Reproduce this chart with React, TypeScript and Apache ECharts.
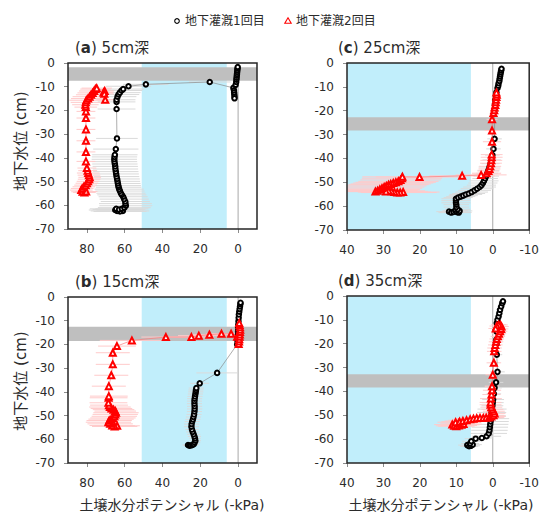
import React, { useEffect, useRef } from "react";
import * as echarts from "echarts";

// [soil water potential (-kPa), water table (cm), sd (kPa)]
// 5cm depth
const d5Run1 = [
  [61, -62.4, 14], [62.5, -62.6, 14], [64, -62.4, 14], [65, -62, 14], [64.5, -61.5, 14], [63, -61.8, 14],
  [61.5, -61.5, 14], [60.2, -61, 14], [59.4, -60.2, 14], [59.6, -59.3, 14], [59.7, -58.4, 13], [60.3, -57.4, 13],
  [60.8, -56.4, 13], [61.5, -55.6, 13], [62, -54.9, 13], [62.5, -54, 13], [62.9, -53.2, 13], [63.2, -52.4, 12],
  [63.4, -51.7, 12], [63.6, -50.8, 12], [63.8, -49.9, 12], [64, -48.9, 12], [64.3, -47.9, 12], [64.5, -46.8, 12],
  [64.7, -45.8, 12], [64.9, -44.7, 12], [65, -43.6, 12], [65.2, -42.6, 12], [65.4, -41.6, 12], [65.5, -40.6, 12],
  [65.4, -39.6, 12], [65.2, -38.7, 12], [64.7, -36.3, 12], [64.1, -31.8, 11], [64.3, -19.4, 10], [64.3, -16.4, 10],
  [64.3, -15.5, 10], [63.8, -14.2, 10], [63.3, -13.3, 11], [62.6, -12.5, 11], [61.7, -11.6, 11], [60.8, -11, 11],
  [58, -9.8, 12], [48.8, -9, 12], [15, -8, 11], [2.5, -10.5, 1], [2.2, -11.5, 1], [2.1, -12.4, 1], [2, -13.3, 1],
  [1.9, -14.2, 1], [1.9, -14.9, 1], [1.3, -9.2, 1], [1, -8, 1], [0.9, -7, 1], [0.8, -6.2, 1], [0.7, -5.4, 1],
  [0.6, -4.6, 1], [0.5, -3.8, 1], [0.4, -3, 1], [0.3, -2.3, 1], [0.2, -1.7, 1],
];
const d5Run2 = [
  [83, -53.6, 6], [82.3, -54.3, 6], [81.3, -54.6, 6], [80.4, -54.2, 6], [82.5, -52.9, 6], [81.6, -52.2, 6],
  [80.7, -51.5, 6], [80, -50.7, 6], [79.4, -49.9, 6], [78.8, -49, 6], [78.5, -48.2, 6], [78.9, -47.3, 6],
  [79.3, -46.4, 6], [79.6, -45.4, 5], [80, -44.3, 5], [80.5, -41.5, 5], [80.5, -37.5, 5], [80.5, -32.8, 5],
  [80.5, -28, 5], [80.5, -23.2, 5], [80.5, -20.4, 5], [80.6, -18.6, 6], [80.8, -17.6, 7], [80.6, -16.6, 8],
  [80.3, -15.7, 9], [79.4, -15, 9], [78.6, -14.2, 9], [77.8, -13.4, 8], [77, -12.6, 8], [76.2, -11.8, 8],
  [75.5, -11, 8], [74.8, -10.6, 8], [70.6, -11.8, 5], [71.2, -12.4, 5], [70.8, -13, 5], [70.3, -15.5, 5],
];

// 15cm depth
const d15Run1 = [
  [26.5, -62.4, 3], [25.8, -62.7, 3], [25, -62.6, 3], [24.2, -62.4, 3], [23.5, -62.1, 3], [23, -61.4, 3],
  [22.6, -60.6, 3], [22.8, -59.7, 3], [23.1, -58.8, 3.5], [23.5, -57.9, 3.5], [24, -56.9, 3.5], [24.4, -55.9, 3.5],
  [24.7, -54.7, 4], [24.6, -53.6, 4], [24.3, -52.5, 4], [23.9, -51.6, 4], [23.6, -50.6, 4], [23.3, -49.5, 4],
  [23.1, -48.3, 4], [23, -47.2, 4], [23, -46.1, 4], [23.1, -45, 4], [23.1, -43.9, 4], [23, -42.9, 4],
  [22.8, -41.9, 4], [22.6, -40.9, 4], [22.4, -40, 4], [22.3, -39.2, 4], [22.1, -38.4, 4], [20.3, -36.4, 5],
  [11.1, -32, 11], [0.5, -20, 1], [0.3, -18.6, 1], [0.2, -17.2, 1], [0.1, -15.8, 1], [0, -14.4, 1], [0, -13, 1],
  [-0.1, -11.6, 1], [-0.2, -10.2, 1], [-0.3, -8.8, 1], [-0.4, -7.4, 1], [-0.6, -6.2, 1], [-0.8, -5.1, 1],
  [-1, -4, 1], [-1.2, -3, 1], [-1.3, -2.4, 1],
];
const d15Run2 = [
  [64, -54.3, 12], [65.3, -54.6, 12], [66.6, -54.2, 12], [67.7, -53.5, 12], [68.6, -52.8, 12], [68.2, -52.1, 12],
  [67.2, -51.5, 12], [66.2, -51, 12], [65.5, -50.3, 12], [65, -49.5, 12], [64.6, -48.8, 12], [65, -48.1, 11],
  [65.9, -47.5, 11], [67, -47, 11], [67.8, -46.4, 11], [68.3, -45.6, 10], [68.6, -44.6, 10], [68.5, -42.5, 10],
  [68.4, -41.8, 10], [68.4, -37.6, 9], [67.1, -33, 9], [66.3, -28.4, 9], [66.3, -23.5, 9], [64.1, -20.7, 10],
  [56.2, -18.3, 17], [38.2, -16.9, 13], [24.7, -16.9, 12], [20.8, -16.3, 11], [15.2, -15.9, 10], [8.8, -15.5, 8],
  [3.7, -15.5, 6], [0.5, -16.8, 2], [-0.3, -19.8, 1], [-0.5, -18.8, 1], [-0.6, -17.8, 1], [-0.8, -16.8, 1],
  [-0.9, -15.8, 1], [-1, -14.8, 1], [-1.1, -13.8, 1], [-1, -12.8, 1], [-0.8, -11.8, 1], [-0.6, -11, 1],
];

// 25cm depth
const d25Run1 = [
  [12, -62.3, 3.5], [11.4, -62.7, 3.5], [10.8, -62.4, 3.5], [10.3, -61.9, 3.5], [9.8, -62.5, 3.5], [9.3, -62.7, 3.5],
  [9.1, -62, 3.5], [9.6, -61.3, 3.5], [10, -60.4, 3.5], [10, -59.4, 3.5], [10.1, -58.6, 4], [10.1, -57.7, 4],
  [10.1, -56.9, 4], [9.5, -56.4, 4], [8.8, -56, 4], [8.1, -55.6, 4], [7.4, -55.1, 4.5], [6.6, -54.7, 4.5],
  [5.8, -54.1, 4.5], [5, -53.4, 4.5], [4.3, -52.7, 4.5], [3.6, -52, 4.5], [3.1, -51.2, 4], [2.7, -50.3, 4],
  [2.4, -49.4, 4], [2.1, -48.4, 3.5], [1.8, -47.4, 3.5], [1.5, -46.2, 3], [1.2, -45, 3], [0.9, -43.6, 3],
  [0.6, -42.2, 2.5], [0.3, -40.6, 2.5], [0.1, -38.6, 2], [-0.2, -36, 2], [-0.5, -31.8, 2], [-0.5, -19.6, 1],
  [-0.6, -17.5, 1], [-0.7, -15.5, 1], [-0.9, -13.5, 1], [-1, -12.3, 1], [-1.3, -10.5, 1], [-1.5, -9.5, 1],
  [-1.6, -8.5, 1], [-1.8, -7.5, 1], [-1.9, -6.5, 1], [-2, -5.6, 1], [-2.1, -4.7, 1], [-2.2, -3.9, 1],
  [-2.3, -3.1, 1], [-2.4, -2.4, 1],
];
const d25Run2 = [
  [24.6, -54.1, 10], [25.4, -54.3, 10], [26.2, -54.3, 10], [27, -54.1, 10], [27.8, -53.8, 10], [28.6, -53.6, 10],
  [29.3, -53.9, 10], [32.2, -53.9, 11], [31.6, -53.5, 11], [31, -53, 11], [30.4, -52.5, 11], [29.8, -52, 11],
  [29.2, -51.5, 11], [28.6, -51, 11], [28, -50.7, 11], [27.3, -50.3, 11], [26.6, -50, 11], [25.9, -49.6, 11],
  [25.3, -49, 11], [24.9, -48.3, 11], [24.8, -47.7, 11], [20.1, -47.8, 12], [8.4, -47.3, 9], [3.2, -46.9, 7],
  [1.7, -46.2, 4], [1.2, -45.3, 3], [0.9, -44.4, 3], [0.7, -43.3, 3], [0.5, -42, 3], [0.4, -40.8, 3],
  [0.3, -39.5, 3], [0.3, -38.4, 3], [0.2, -33, 2.5], [0.2, -28.3, 2], [0.2, -23.6, 1.5], [-0.2, -21, 1],
  [-0.4, -19.8, 1], [-0.5, -18.7, 1], [-0.7, -17.6, 1], [-0.8, -16.5, 1], [-0.9, -15.4, 1], [-1, -14.3, 1],
  [-1.1, -13.3, 1], [-1, -12.4, 1],
];

// 35cm depth
const d35Run1 = [
  [7, -62.5, 2.5], [6.5, -63, 2.5], [6, -62.8, 2.5], [5.5, -62.3, 2.5], [6.2, -61.8, 2.5], [5.9, -60.9, 2.5],
  [4.7, -59.8, 3], [3, -59.5, 3], [1.7, -58.8, 4], [1.1, -57.6, 5], [0.9, -56.3, 5], [0.8, -55, 5],
  [0.7, -53.8, 5], [0.6, -52.6, 5], [0.5, -51.4, 5], [0.4, -50.2, 4], [0.3, -48.8, 4], [0.2, -47.4, 4],
  [0.1, -46, 3], [0, -44.7, 3], [-0.1, -43.4, 3], [-0.3, -41, 2], [-0.5, -38.5, 2], [-0.9, -36.2, 2],
  [-1.3, -31.8, 2], [-1.1, -24.6, 1.5], [-1, -20, 1], [-1, -18.3, 1], [-1.1, -15, 1], [-1.1, -11.3, 1],
  [-1.3, -10, 1], [-1.6, -8.6, 1], [-1.8, -7.2, 1], [-2, -5.8, 1], [-2.3, -4.4, 1], [-2.6, -3, 1], [-2.8, -2.2, 1],
];
const d35Run2 = [
  [11.1, -53.9, 5], [10.6, -54.4, 5], [10, -54.6, 5], [9.3, -54.3, 5], [8.6, -54, 5], [8, -53.7, 5],
  [9.4, -53.3, 5], [10.2, -52.9, 5], [9.1, -52.7, 5], [8.2, -52.4, 5], [7.2, -52.1, 5], [6.2, -51.7, 5],
  [5.3, -51.4, 5], [4.4, -51.2, 5], [3.5, -51.1, 5], [2.6, -51.1, 5], [1.8, -51, 5], [1, -50.9, 4],
  [0.4, -50.5, 4], [-0.2, -50, 3], [-0.5, -49.2, 3], [-0.3, -48.3, 3], [0.1, -47.5, 3], [0.4, -46.6, 3],
  [0.6, -45.6, 3], [0.6, -44.6, 3], [0.5, -43, 3], [0.35, -41.3, 2.5], [0.2, -39.5, 2.5], [0.2, -37.8, 2],
  [0, -33, 2], [-0.3, -28, 2], [-0.4, -23.2, 2], [-0.5, -21.8, 2], [-0.7, -20.5, 2], [-0.9, -19.2, 2],
  [-1.1, -18, 2], [-1.4, -16.9, 2], [-1.7, -15.8, 2], [-2, -14.8, 2], [-2.3, -13.8, 2], [-2.4, -12.8, 2],
  [-2.1, -12.1, 2], [-1.6, -12, 2], [-1.1, -12.6, 2], [-0.8, -13.6, 2],
];

// shaded potential range (-kPa) and sensor layer (cm) for each depth
const shadedPotential = [6, 51];
const sensorLayers = { a: [-1.8, -7.5], b: [-12.5, -18.6], c: [-22.7, -28.3], d: [-32.8, -38.4] };

const seriesNames = ["地下灌漑1回目", "地下灌漑2回目"];
const levelRange = [-70, 0];
const wideTicks = [0, 20, 40, 60, 80];
const narrowTicks = [-10, 0, 10, 20, 30, 40];

const FONT = '"DejaVu Sans", "Noto Sans CJK JP", sans-serif';
const BLUE = "#c1eefb";
const GRAY_BAND = "#bfbfbf";
const TEXT = "#2b2b2b";

const panels = [
  { key: "a", depth: "5cm深", run1: d5Run1, run2: d5Run2, xMin: -10, xMax: 90, ticks: wideTicks,
    grid: { left: 68, top: 63, width: 189, height: 166 } },
  { key: "c", depth: "25cm深", run1: d25Run1, run2: d25Run2, xMin: -10, xMax: 40, ticks: narrowTicks,
    grid: { left: 347, top: 63, width: 189, height: 167 } },
  { key: "b", depth: "15cm深", run1: d15Run1, run2: d15Run2, xMin: -10, xMax: 90, ticks: wideTicks,
    grid: { left: 68, top: 297, width: 189, height: 166 } },
  { key: "d", depth: "35cm深", run1: d35Run1, run2: d35Run2, xMin: -10, xMax: 40, ticks: narrowTicks,
    grid: { left: 347, top: 296, width: 189, height: 167 } },
];

const clamp = (v: number, lo: number, hi: number) => Math.max(lo, Math.min(hi, v));

function rectFrom(a: number[], b: number[]) {
  return {
    x: Math.min(a[0], b[0]),
    y: Math.min(a[1], b[1]),
    width: Math.abs(b[0] - a[0]),
    height: Math.abs(b[1] - a[1]),
  };
}

function buildOption() {
  const series: any[] = [];
  panels.forEach((p, i) => {
    const layer = (sensorLayers as any)[p.key];
    // background: blue potential range, gray sensor layer, zero line
    series.push({
      type: "custom",
      xAxisIndex: i,
      yAxisIndex: i,
      z: 1,
      silent: true,
      encode: { x: [0, 1], y: [2, 3] },
      data: [
        [clamp(shadedPotential[0], p.xMin, p.xMax), clamp(shadedPotential[1], p.xMin, p.xMax), levelRange[0], levelRange[1], 0],
        [p.xMin, p.xMax, layer[0], layer[1], 1],
        [0, 0, levelRange[0], levelRange[1], 2],
      ],
      renderItem: (_params: any, api: any) => {
        const a = api.coord([api.value(0), api.value(2)]);
        const b = api.coord([api.value(1), api.value(3)]);
        const kind = api.value(4);
        if (kind === 2) {
          return {
            type: "line",
            shape: { x1: a[0], y1: a[1], x2: b[0], y2: b[1] },
            style: { stroke: "#a8a8a8", lineWidth: 1 },
          };
        }
        return {
          type: "rect",
          shape: rectFrom(a, b),
          style: { fill: kind === 0 ? BLUE : GRAY_BAND },
        };
      },
    });
    // horizontal sd bars
    [
      { data: p.run1, color: "#dadada" },
      { data: p.run2, color: "#ffcaca" },
    ].forEach((e) => {
      series.push({
        type: "custom",
        xAxisIndex: i,
        yAxisIndex: i,
        z: 3,
        silent: true,
        encode: { x: 0, y: 1 },
        data: e.data.map((d) => [d[0], d[1], d[2]]),
        renderItem: (_params: any, api: any) => {
          const x = api.value(0);
          const y = api.value(1);
          const s = api.value(2);
          const a = api.coord([clamp(x + s, p.xMin, p.xMax), y]);
          const b = api.coord([clamp(x - s, p.xMin, p.xMax), y]);
          return {
            type: "line",
            shape: { x1: a[0], y1: a[1], x2: b[0], y2: b[1] },
            style: { stroke: e.color, lineWidth: 1 },
          };
        },
      });
    });
    series.push({
      type: "line",
      name: seriesNames[0],
      xAxisIndex: i,
      yAxisIndex: i,
      z: 4,
      data: p.run1.map((d) => [d[0], d[1]]),
      symbol: "emptyCircle",
      symbolSize: 4.5,
      showSymbol: true,
      itemStyle: { color: "#000", borderWidth: 1 },
      lineStyle: { color: "#8a8a8a", width: 0.7 },
    });
    series.push({
      type: "line",
      name: seriesNames[1],
      xAxisIndex: i,
      yAxisIndex: i,
      z: 5,
      data: p.run2.map((d) => [d[0], d[1]]),
      symbol: "emptyTriangle",
      symbolSize: 6,
      showSymbol: true,
      itemStyle: { color: "#ff0000", borderWidth: 1 },
      lineStyle: { color: "#ff7a7a", width: 0.7 },
    });
    // plot frame
    series.push({
      type: "custom",
      xAxisIndex: i,
      yAxisIndex: i,
      z: 10,
      silent: true,
      encode: { x: [0, 1], y: [2, 3] },
      data: [[p.xMin, p.xMax, levelRange[0], levelRange[1]]],
      renderItem: (_params: any, api: any) => {
        const a = api.coord([api.value(0), api.value(2)]);
        const b = api.coord([api.value(1), api.value(3)]);
        return {
          type: "rect",
          shape: rectFrom(a, b),
          style: { fill: "none", stroke: "#262626", lineWidth: 1.5 },
        };
      },
    });
  });

  const titleEls = panels.map((p) => ({
    type: "text",
    x: p.grid.left + (p.grid.left < 200 ? 7 : -9),
    y: p.grid.top - 15,
    style: {
      text: `{n|(}{b|${p.key}}{n|) ${p.depth}}`,
      verticalAlign: "middle",
      rich: {
        n: { fontSize: 15, fontFamily: FONT, fill: TEXT, color: TEXT },
        b: { fontSize: 15, fontFamily: FONT, fontWeight: "bold", fill: TEXT, color: TEXT },
      },
    },
  }));

  const graphic: any[] = [
    {
      type: "circle",
      shape: { cx: 177, cy: 21, r: 2.3 },
      style: { fill: "#fff", stroke: "#000", lineWidth: 1.1 },
    },
    {
      type: "text",
      x: 185,
      y: 21,
      style: { text: seriesNames[0], font: `12px ${FONT}`, fill: TEXT, verticalAlign: "middle" },
    },
    {
      type: "polygon",
      shape: { points: [[288, 17.8], [291.2, 23.3], [284.8, 23.3]] },
      style: { fill: "#fff", stroke: "#ff0000", lineWidth: 1.1 },
    },
    {
      type: "text",
      x: 296,
      y: 21,
      style: { text: seriesNames[1], font: `12px ${FONT}`, fill: TEXT, verticalAlign: "middle" },
    },
    ...titleEls,
    {
      type: "text",
      x: 172,
      y: 505,
      style: { text: "土壌水分ポテンシャル (-kPa)", font: `14px ${FONT}`, fill: TEXT, align: "center", verticalAlign: "middle" },
    },
    {
      type: "text",
      x: 441,
      y: 505,
      style: { text: "土壌水分ポテンシャル (-kPa)", font: `14px ${FONT}`, fill: TEXT, align: "center", verticalAlign: "middle" },
    },
    {
      type: "text",
      x: 20.5,
      y: 141,
      rotation: Math.PI / 2,
      style: { text: "地下水位 (cm)", font: `15px ${FONT}`, fill: TEXT, align: "center", verticalAlign: "middle" },
    },
    {
      type: "text",
      x: 20.5,
      y: 381,
      rotation: Math.PI / 2,
      style: { text: "地下水位 (cm)", font: `15px ${FONT}`, fill: TEXT, align: "center", verticalAlign: "middle" },
    },
  ];

  return {
    animation: false,
    backgroundColor: "#fff",
    textStyle: { fontFamily: FONT },
    grid: panels.map((p) => ({ ...p.grid, containLabel: false })),
    xAxis: panels.map((p, i) => ({
      gridIndex: i,
      type: "value",
      inverse: true,
      min: p.xMin,
      max: p.xMax,
      axisLine: { show: false, onZero: false },
      axisTick: { show: true, length: 4, customValues: p.ticks, lineStyle: { color: "#8c8c8c" } },
      axisLabel: { customValues: p.ticks, margin: 14, fontSize: 12, color: TEXT, fontFamily: FONT },
      splitLine: { show: false },
    })),
    yAxis: panels.map((_p, i) => ({
      gridIndex: i,
      type: "value",
      min: levelRange[0],
      max: levelRange[1],
      interval: 10,
      axisLine: { show: false, onZero: false },
      axisTick: { show: true, length: 4, lineStyle: { color: "#8c8c8c" } },
      axisLabel: { margin: 13, fontSize: 12, color: TEXT, fontFamily: FONT },
      splitLine: { show: false },
    })),
    series,
    graphic,
  };
}

export default function App() {
  const ref = useRef<HTMLDivElement>(null);
  useEffect(() => {
    if (!ref.current) return;
    const chart = echarts.init(ref.current, undefined, { renderer: "svg" });
    chart.setOption(buildOption() as any);
    return () => chart.dispose();
  }, []);
  return (
    <div
      ref={ref}
      style={{ position: "absolute", left: 0, top: 0, width: 542, height: 515, background: "#fff" }}
    />
  );
}
